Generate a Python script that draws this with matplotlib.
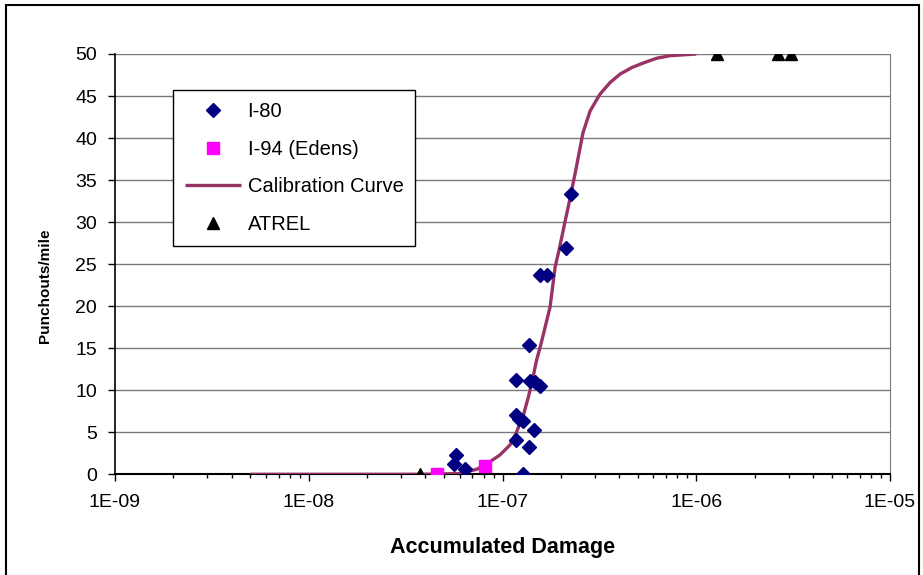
import matplotlib
matplotlib.use("Agg")
import matplotlib.pyplot as plt
from matplotlib.ticker import FixedLocator, FixedFormatter, LogLocator, NullFormatter
from matplotlib.patches import Rectangle

plt.rcParams['font.family'] = ['Liberation Sans', 'DejaVu Sans']

# ---- data ----
i80_x = [5.73e-8, 5.65e-8, 6.4e-8, 1.28e-7, 1.37e-7, 1.18e-7, 1.39e-7, 1.47e-7, 1.56e-7,
         1.18e-7, 1.21e-7, 1.27e-7, 1.46e-7, 1.18e-7, 1.37e-7, 2.26e-7, 2.12e-7, 1.56e-7, 1.69e-7]
i80_y = [2.26, 1.27, 0.68, 0.0, 15.4, 11.2, 11.1, 11.0, 10.5,
         7.1, 6.6, 6.4, 5.3, 4.1, 3.2, 33.4, 26.9, 23.7, 23.7]

i94_x = [4.57e-8, 8.13e-8]
i94_y = [0.0, 1.0]

atrel_x = [3.75e-8, 1.285e-6, 2.65e-6, 3.08e-6]
atrel_y = [0.0, 50.0, 50.0, 50.0]

curve_x = [5e-9, 2.96e-8, 4.5e-8, 6.04e-8, 7.36e-8, 8.13e-8, 9.7e-8, 1.094e-7, 1.18e-7, 1.28e-7,
           1.36e-7, 1.415e-7, 1.50e-7, 1.58e-7, 1.76e-7, 1.87e-7, 1.96e-7, 2.10e-7, 2.23e-7,
           2.39e-7, 2.60e-7, 2.83e-7, 3.18e-7, 3.59e-7, 4.04e-7, 4.66e-7, 5.43e-7, 6.26e-7,
           7.33e-7, 1.0e-6]
curve_y = [0.0, 0.0, 0.02, 0.1, 0.6, 1.1, 2.3, 3.5, 5.0, 7.0,
           9.2, 10.8, 13.6, 15.5, 19.9, 24.7, 26.7, 30.0, 32.8,
           36.2, 40.6, 43.2, 45.2, 46.6, 47.6, 48.4, 49.0, 49.5,
           49.8, 50.0]

x_ticks = [1e-9, 1e-8, 1e-7, 1e-6, 1e-5]
x_tick_labels = ["1E-09", "1E-08", "1E-07", "1E-06", "1E-05"]
y_ticks = [0, 5, 10, 15, 20, 25, 30, 35, 40, 45, 50]

# ---- figure ----
W, H = 923, 575
fig = plt.figure(figsize=(W / 100, H / 100), dpi=100)
ax = fig.add_axes([115 / W, 1 - 474.3 / H, (890 - 115) / W, (474.3 - 54) / H])

ax.set_xscale('log')
ax.set_xlim(1e-9, 1e-5)
ax.set_ylim(0, 50)

for yv in y_ticks[1:]:
    ax.axhline(yv, color='#7a7a7a', lw=1.0, zorder=1)

ax.plot(curve_x, curve_y, color='#993366', lw=2.4, label='Calibration Curve', zorder=3,
        solid_capstyle='butt', solid_joinstyle='round')
ax.plot(i80_x, i80_y, linestyle='none', marker='D', ms=7, color='#000080',
        label='I-80', zorder=4)
ax.plot(i94_x, i94_y, linestyle='none', marker='s', ms=9, color='#ff00ff',
        label='I-94 (Edens)', zorder=5)
ax.plot(atrel_x, atrel_y, linestyle='none', marker='^', ms=9, color='black',
        label='ATREL', zorder=6)

ax.xaxis.set_major_locator(FixedLocator(x_ticks))
ax.xaxis.set_major_formatter(FixedFormatter(x_tick_labels))
ax.xaxis.set_minor_locator(LogLocator(base=10, subs=range(2, 10), numticks=20))
ax.xaxis.set_minor_formatter(NullFormatter())
ax.set_yticks(y_ticks)
ax.tick_params(axis='both', which='major', direction='out', length=5, width=1,
               labelsize=14, color='black')
ax.tick_params(axis='x', which='minor', direction='out', length=3, width=1)
ax.tick_params(axis='x', pad=9)
ax.tick_params(axis='y', pad=8)

ax.spines['top'].set_visible(False)
ax.spines['right'].set_color('#7a7a7a')
ax.spines['left'].set_linewidth(1.2)
ax.spines['bottom'].set_linewidth(1.5)

ax.set_xlabel('Accumulated Damage', fontsize=15.5, fontweight='bold')
ax.xaxis.set_label_coords(0.5, (474.3 - 547) / (474.3 - 54), transform=ax.transAxes)
ax.set_ylabel('Punchouts/mile', fontsize=11, fontweight='bold')
ax.yaxis.set_label_coords((45 - 115) / (890 - 115), (474.3 - 286) / (474.3 - 54),
                          transform=ax.transAxes)
ax.xaxis.label.set_va('center')
ax.yaxis.label.set_va('center')

handles, labels = ax.get_legend_handles_labels()
order = [labels.index(l) for l in ['I-80', 'I-94 (Edens)', 'Calibration Curve', 'ATREL']]
leg = ax.legend([handles[i] for i in order], [labels[i] for i in order],
                loc='upper left', bbox_to_anchor=(173 / W, 1 - 90 / H),
                bbox_transform=fig.transFigure, fontsize=14.5, frameon=True,
                fancybox=False, edgecolor='black', framealpha=1, borderaxespad=0,
                labelspacing=0.92, handlelength=2.8, handletextpad=0.3,
                borderpad=0.6)
leg.get_frame().set_linewidth(1.0)

# figure border
fig.patches.append(Rectangle((6 / W, -0.01), (919 - 6) / W, 1 - 5 / H + 0.01,
                             transform=fig.transFigure, fill=False, edgecolor='black',
                             lw=1.5, zorder=10))

fig.savefig('out.png', dpi=100)
